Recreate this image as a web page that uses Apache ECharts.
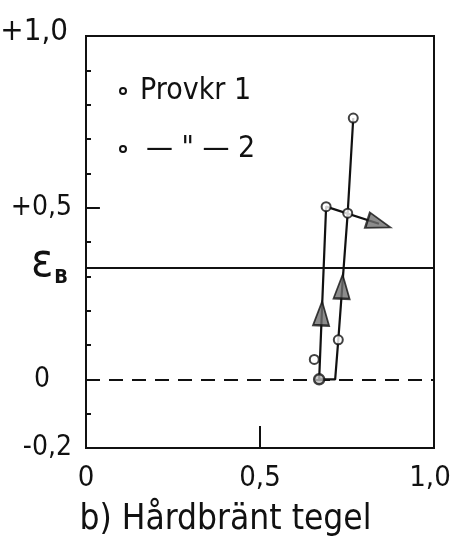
<!DOCTYPE html>
<html><head><meta charset="utf-8">
<script src="https://cdn.jsdelivr.net/npm/echarts@6/dist/echarts.min.js"></script>
<style>html,body{margin:0;padding:0;background:#fff}#c{width:451px;height:546px}</style>
</head><body><div id="c"></div>
<script>
// ---- data ----
const xTicks = ['0', '0,5', '1,0'];
const yTickLabels = { '-2': '-0,2', '0': '0', '5': '+0,5', '10': '+1,0' };
const epsB = 0.324;
const line1 = [[0.670, 0], [0.690, 0.503], [0.842, 0.453]];
const line2 = [[0.670, 0], [0.716, 0], [0.725, 0.115], [0.752, 0.484], [0.768, 0.761]];
const pointsOpen = [[0.656, 0.058], [0.690, 0.503], [0.725, 0.115], [0.752, 0.484], [0.768, 0.761]];
const pointsBold = [[0.670, 0]];
const arrows = [
  { value: [0.677, 0.192], rot: -2.5 },
  { value: [0.736, 0.270], rot: -2.5 },
  { value: [0.842, 0.453], rot: -107.8 }
];
const legendItems = ['Provkr 1', '— " — 2'];
const titleText = 'b) Hårdbränt tegel';

const FONT = "'DejaVu Sans Condensed', 'Liberation Sans Narrow', sans-serif";
const chart = echarts.init(document.getElementById('c'), null, { renderer: 'canvas' });
const lineStyle = { color: '#111', width: 2.2 };
const C = '#111';
chart.setOption({
  animation: false,
  backgroundColor: '#fff',
  title: { text: titleText, left: 'center', top: 497,
    textStyle: { fontFamily: FONT, fontSize: 35, fontWeight: 'normal', color: C } },
  grid: { left: 86, right: 17, top: 36, bottom: 98, outerBoundsMode: 'none', containLabel: false,
    show: true, borderColor: C, borderWidth: 2 },
  xAxis: { type: 'value', min: 0, max: 1, interval: 0.5,
    axisLine: { show: true, onZero: false, lineStyle: { color: C, width: 2 } },
    axisTick: { show: true, inside: true, length: 22, lineStyle: { color: C, width: 2 } },
    splitLine: { show: false },
    axisLabel: { margin: 16, fontFamily: FONT, fontSize: 29, color: C,
      formatter: v => { const i = Math.round(v * 2); return i === 2 ? '{r|' + xTicks[i] + '}' : xTicks[i]; },
      rich: { r: { fontFamily: FONT, fontSize: 29, color: C, padding: [0, 8, 0, 0] } } } },
  yAxis: { type: 'value', min: -0.2, max: 1.0, interval: 0.1,
    axisLine: { show: true, onZero: false, lineStyle: { color: C, width: 2 } },
    axisTick: { show: true, inside: true, length: 5, lineStyle: { color: C, width: 2 } },
    splitLine: { show: false },
    axisLabel: { margin: 14, fontFamily: FONT, fontSize: 28, color: C,
      formatter: v => { const k = String(Math.round(v * 10)); const t = yTickLabels[k];
        if (t === undefined) return ''; return k === '0' ? '{z|0}' : (k === '10' ? '{t|' + t + '}' : t); },
      rich: { z: { fontFamily: FONT, fontSize: 28, color: C, padding: [0, 22, 0, 0] },
              t: { fontFamily: FONT, fontSize: 31, color: C, padding: [0, 4, 8, 0] } } } },
  graphic: [
    { type: 'circle', shape: { cx: 123, cy: 91, r: 3 }, style: { fill: '#fff', stroke: C, lineWidth: 2 } },
    { type: 'text', left: 140, top: 76, style: { text: legendItems[0], font: "30px " + FONT, fill: C } },
    { type: 'circle', shape: { cx: 123, cy: 149, r: 3 }, style: { fill: '#fff', stroke: C, lineWidth: 2 } },
    { type: 'text', left: 146, top: 134, style: { text: legendItems[1], font: "30px " + FONT, fill: C } }
  ],
  series: [
    { type: 'line', data: line1, symbol: 'none', lineStyle, z: 3,
      markLine: { silent: true, symbol: 'none', animation: false,
        lineStyle: { type: 'solid', width: 2, color: C },
        data: [
          [{ coord: [0, epsB],
             label: { show: true, position: 'start', distance: 18, formatter: '{e|ε}{b|B}',
               rich: { e: { fontFamily: FONT, fontSize: 46, color: C, padding: [0, 1, 8, 0] },
                       b: { fontFamily: FONT, fontSize: 20, fontWeight: 'bold', color: C, padding: [20, 0, 0, 0] } } } },
           { coord: [1, epsB] }],
          [{ coord: [0, 0.5], label: { show: false } }, { coord: [0.04, 0.5] }]
        ] } },
    { type: 'line', data: line2, symbol: 'none', lineStyle, z: 3,
      markLine: { silent: true, symbol: 'none', animation: false,
        lineStyle: { type: [14, 9], width: 2, color: C }, label: { show: false },
        data: [ [{ coord: [0, 0] }, { coord: [1, 0] }] ] } },
    { type: 'scatter', data: arrows.map(a => ({ value: a.value, symbolRotate: a.rot })),
      symbol: 'triangle', symbolSize: [16, 24], z: 5,
      itemStyle: { color: '#6f6f6f', borderColor: C, borderWidth: 2 } },
    { type: 'scatter', data: pointsOpen, symbol: 'circle', symbolSize: 9, z: 6,
      itemStyle: { color: '#fff', borderColor: C, borderWidth: 2 } },
    { type: 'scatter', data: pointsBold, symbol: 'circle', symbolSize: 10, z: 6,
      itemStyle: { color: '#bbb', borderColor: C, borderWidth: 2.5 } }
  ]
});
</script></body></html>
